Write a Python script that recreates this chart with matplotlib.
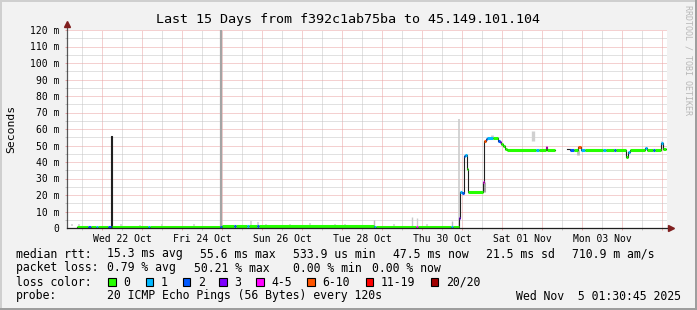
import matplotlib.pyplot as plt
import numpy as np
from matplotlib.patches import Rectangle

# x = hours since graph start (Tue 21 Oct ~03:00), 15 days = 360 h
# median rtt in ms, drawn as steps, loss class index per step (-1 = no colour)
med_hours = [6.0, 12.6, 14.4, 17.4, 18.6, 24.6, 26.4, 26.7, 48.6, 49.8,
             91.8, 93.0, 100.2, 101.4, 108.0, 109.2, 114.0, 115.2, 184.2, 185.4,
             209.4, 210.6, 230.4, 231.6, 235.0, 235.6, 236.8, 238.2, 239.0, 239.8,
             240.4, 249.6, 250.4, 251.2, 252.0, 255.6, 258.6, 259.8, 260.4, 261.6,
             262.8, 264.0, 281.4, 283.2, 287.4, 288.0, 292.8, 299.8, 302.0, 304.2,
             306.6, 308.4, 310.8, 321.6, 323.4, 328.2, 329.4, 335.4, 336.6, 337.8,
             346.8, 348.0, 351.6, 352.8, 356.4, 357.6, 359.4]
med_ms = [0.9, 0.9, 0.9, 0.9, 0.9, 0.9, 55.6, 0.9, 0.9, 0.9,
          0.9, 1.1, 1.1, 1.1, 1.1, 1.1, 1.0, 1.0, 0.9, 0.9,
          0.9, 0.9, 0.9, 0.9, 6.0, 22.0, 21.0, 43.5, 44.0, 36.0,
          22.0, 28.0, 52.5, 54.0, 54.5, 54.5, 53.0, 52.0, 51.0, 49.5,
          48.0, 47.4, 47.4, 47.4, 49.0, 47.4, np.nan, 47.7, 47.4, 47.4,
          49.3, 47.4, 47.4, 47.4, 47.4, 47.4, 47.4, 43.2, 46.0, 47.4,
          48.7, 47.4, 47.4, 47.4, 51.5, 47.6, np.nan]
med_loss = [0, 2, 0, 1, 0, 2, -1, 0, 1, 0,
            2, 0, 2, 0, 1, 0, 2, 0, 1, 0,
            4, 0, 1, 0, 3, 1, 2, 2, 1, 0,
            0, 4, 5, 2, 1, 0, 2, 3, 0, 0,
            0, 0, 1, 0, 4, 0, -1, -1, 2, 0,
            5, 1, 0, 1, 0, 2, 0, 0, 1, 0,
            1, 0, 2, 0, 1, 0, -1]

# smoke (spread of the single pings)
smoke_hours = [92.4, 235.2, 250.0, 279.6, 306.8, 357.0, 184.0, 210.0, 230.8, 206.8,
               3.0, 7.2, 32.4, 43.8, 57.0, 76.2, 110.4, 114.6, 119.4, 133.8,
               145.8, 160.8, 166.8, 196.2, 216.0, 255.0]
smoke_lo = [0.0, 1.0, 22.0, 53.0, 44.5, 48.0, 0.5, 0.5, 0.5, 0.5,
            1.2, 1.2, 1.2, 1.2, 1.2, 1.2, 1.5, 1.5, 1.2, 1.2,
            1.2, 1.2, 1.2, 1.2, 1.2, 55.0]
smoke_hi = [135.0, 66.0, 28.0, 59.0, 47.0, 53.0, 5.0, 6.0, 4.0, 6.5,
            2.5, 2.2, 2.4, 2.0, 2.2, 2.4, 4.0, 3.5, 2.5, 2.2,
            3.0, 2.5, 2.2, 2.6, 2.4, 56.5]
smoke_gray = ["#a4a4a4", "#cccccc", "#aaaaaa", "#d0d0d0", "#bbbbbb", "#dddddd", "#bbbbbb",
              "#cccccc", "#bbbbbb", "#c8c8c8"] + ["#d8d8d8"] * 15 + ["#cccccc"]
smoke_width = [1.6, 1.2, 2.2, 2.4, 2.0, 1.5, 1.0, 1.0, 1.0, 1.0] + [1.4] * 15 + [2.0]

loss_labels = ["0", "1", "2", "3", "4-5", "6-10", "11-19", "20/20"]
loss_colors = ["#26ff00", "#00b8ff", "#0059ff", "#7e00ff", "#ff00ff", "#ff5500",
               "#ff0000", "#a10000"]

day_labels = ["Wed 22 Oct", "Fri 24 Oct", "Sun 26 Oct", "Tue 28 Oct", "Thu 30 Oct",
              "Sat 01 Nov", "Mon 03 Nov"]
label_hours = [33, 81, 129, 177, 225, 273, 321]

W, H = 697, 310
plt.rcParams["font.family"] = "DejaVu Sans Mono"

fig = plt.figure(figsize=(W / 100, H / 100), dpi=100, facecolor="#f2f2f2")
ax = fig.add_axes([67 / W, (H - 228) / H, 600 / W, 198 / H])
ax.set_xlim(0, 360)
ax.set_ylim(0, 120)
ax.set_facecolor("white")
for s in ax.spines.values():
    s.set_visible(False)

grid_c = "#c4c4c4"
mgrid_c = "#eba3a3"
axis_c = "#1f1f1f"
arrow_c = "#801f1f"

# grid (1px dotted, like rrdtool)
minor_x = np.arange(9, 360, 24)
major_x = np.arange(21, 360, 24)
minor_y = np.arange(5, 120, 10)
major_y = np.arange(10, 121, 10)
dots = (0, (1, 1))
gkw = dict(lw=0.72, linestyles=[dots], zorder=1)
ax.vlines(minor_x, 0, 120, colors=[grid_c], **gkw)
ax.vlines(major_x, 0, 120, colors=[mgrid_c], **gkw)
ax.hlines(minor_y, 0, 360, colors=[grid_c], **gkw)
ax.hlines(major_y, 0, 360, colors=[mgrid_c], **gkw)
ax.vlines(minor_x, -1.3, 0, colors=[grid_c], lw=0.72, clip_on=False)
ax.vlines(major_x, -1.3, 0, colors=[mgrid_c], lw=0.72, clip_on=False)
ax.hlines(minor_y, -1.2, 0, colors=[grid_c], lw=0.72, clip_on=False)
ax.hlines(major_y, -1.2, 0, colors=[mgrid_c], lw=0.72, clip_on=False)

# smoke
ax.vlines(smoke_hours, smoke_lo, smoke_hi, colors=smoke_gray, linewidths=smoke_width,
          zorder=2)

# median line, black thin + coloured by loss
ax.plot(med_hours, med_ms, drawstyle="steps-post", color="#202020", lw=0.8, zorder=3)
for i in range(len(med_hours) - 1):
    if med_loss[i] < 0 or np.isnan(med_ms[i]):
        continue
    ax.hlines(med_ms[i], med_hours[i], med_hours[i + 1],
              colors=loss_colors[med_loss[i]], lw=2.2, zorder=4)

# axes with arrows
ax.plot([0, 360.6], [0, 0], color=axis_c, lw=0.9, clip_on=False, zorder=5)
ax.plot([0, 0], [0, 122.5], color=axis_c, lw=0.9, clip_on=False, zorder=5, alpha=0.75)
ax.plot([362.1], [0], marker=">", ms=4.2, color=arrow_c, mec=arrow_c, clip_on=False, zorder=6)
ax.plot([0], [123.9], marker="^", ms=4.2, color=arrow_c, mec=arrow_c, clip_on=False, zorder=6)

ax.set_xticks(label_hours, day_labels)
ax.set_yticks(np.arange(0, 121, 10),
              ["0"] + [f"{v} m" for v in range(10, 121, 10)])
ax.tick_params(axis="x", length=0, pad=4, labelsize=7)
ax.tick_params(axis="y", length=0, pad=5.5, labelsize=7)

ax.set_ylabel("Seconds", fontsize=8.2, labelpad=0)
ax.yaxis.set_label_coords(-(67 - 16) / 600, 0.5)

fig.text(348.5 / W, 1 - 19 / H, "Last 15 Days from f392c1ab75ba to 45.149.101.104",
         ha="center", va="center", fontsize=9.6)
fig.text(688 / W, 1 - 5 / H, "RRDTOOL / TOBI OETIKER", rotation=270, ha="center",
         va="top", fontsize=6, color="#b8b8b8")


def put(x, y, s, **kw):
    fig.text(x / W, 1 - y / H, s, va="center", fontsize=8.3, **kw)


put(16, 254, "median rtt:")
for x, s in zip([107, 200, 293, 393, 486, 572],
                ["15.3 ms avg", "55.6 ms max", "533.9 us min", "47.5 ms now",
                 "21.5 ms sd", "710.9 m am/s"]):
    put(x, 254, s)
put(16, 268, "packet loss:")
for x, s in zip([107, 194, 293, 372],
                ["0.79 % avg", "50.21 % max", "0.00 % min", "0.00 % now"]):
    put(x, 268, s)
put(16, 282, "loss color:")
box_x = [108.3, 145.7, 182.7, 219.3, 256, 307.3, 365.7, 430.7]
for bx, lab, col in zip(box_x, loss_labels, loss_colors):
    fig.add_artist(Rectangle((bx / W, 1 - 286 / H), 7.5 / W, 8 / H,
                             transform=fig.transFigure, fc=col, ec="black", lw=0.8))
    put(bx + 15, 282, lab)
put(16, 296, "probe:")
put(107, 296, "20 ICMP Echo Pings (56 Bytes) every 120s")
put(681, 296, "Wed Nov  5 01:30:45 2025", ha="right")

# 3d frame
shade_a, shade_b = "#cfcfcf", "#9e9e9e"
for (xy, w, h, c) in [((0, 1 - 2 / H), 1, 2 / H, shade_a), ((0, 0), 2 / W, 1, shade_a),
                      ((0, 0), 1, 2 / H, shade_b), ((1 - 2 / W, 0), 2 / W, 1, shade_b)]:
    fig.add_artist(Rectangle(xy, w, h, transform=fig.transFigure, fc=c, ec="none"))

fig.savefig("out.png", dpi=100, facecolor=fig.get_facecolor())
